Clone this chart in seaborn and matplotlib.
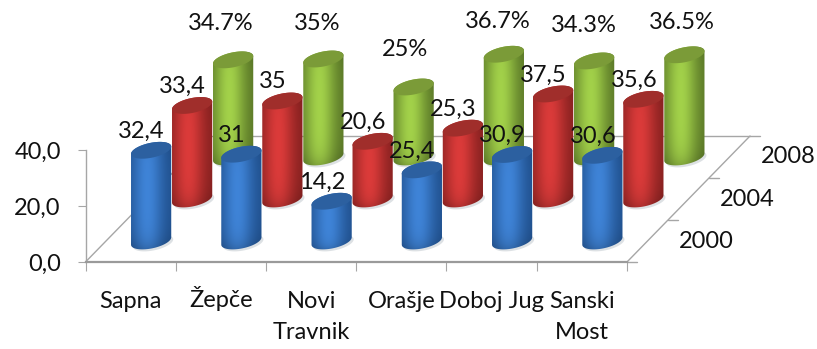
import numpy as np
import pandas as pd
import seaborn as sns
import matplotlib
matplotlib.use("Agg")
import matplotlib.pyplot as plt
from matplotlib.colors import to_rgb
from matplotlib.path import Path
from matplotlib.transforms import ScaledTranslation

# Values per municipality and survey year
municipalities = ["Sapna", "Žepče", "Novi\nTravnik", "Orašje", "Doboj Jug", "Sanski\nMost"]
years = ["2000", "2004", "2008"]
values_2000 = [32.4, 31, 14.2, 25.4, 30.9, 30.6]
values_2004 = [33.4, 35, 20.6, 25.3, 37.5, 35.6]
values_2008 = [34.7, 35, 25, 36.7, 34.3, 36.5]

# Styling per year: light side, dark side, cap colour
light = {"2000": "#3f84d8", "2004": "#dc3b3a", "2008": "#a3d24a"}
dark = {"2000": "#1f4f8c", "2004": "#84201f", "2008": "#587526"}
cap = {"2000": "#2c60a0", "2004": "#a02e2b", "2008": "#7b9b38"}

# Horizontal nudges and lifts (px) for the percentage labels of the back row
back_nudge_x = [-12, -6, -9, -6, -10, -3]
back_lift = [36, 35, 37, 33, 35, 32]

W, H = 817, 349
X_LEFT, X_RIGHT, Y_ZERO, Y_FORTY = 85.5, 627.0, 262.0, 150.0
PX_PER_CAT = (X_RIGHT - X_LEFT) / 6
PX_PER_UNIT = (Y_ZERO - Y_FORTY) / 40
DX = 41 / PX_PER_CAT      # category shift per depth step
DY = 42 / PX_PER_UNIT     # value shift per depth step
A, B, PHI = 20.5, 7.4, np.radians(12)   # tilted ellipse of the cylinder ends (px)

sns.set_theme(style="white")
plt.rcParams["font.family"] = ["Lato", "DejaVu Sans"]
FS = 17


def oblique(x, v, depth):
    """Project a point on the floor grid/height into the flat axes."""
    return x + depth * DX, v + depth * DY


def ellipse_pts(cx, cy, t):
    ex = A * np.cos(t) * np.cos(PHI) - B * np.sin(t) * np.sin(PHI)
    ey = A * np.cos(t) * np.sin(PHI) + B * np.sin(t) * np.cos(PHI)
    return cx + ex / PX_PER_CAT, cy + ey / PX_PER_UNIT


def shading(lo, hi):
    nx, ny = 80, 40
    s = np.linspace(0, 1, nx)
    v = np.linspace(0, 1, ny)
    w = np.exp(-((s - 0.42) / 0.36) ** 2)[None, :, None]
    lo, hi = np.array(to_rgb(lo)), np.array(to_rgb(hi))
    img = lo + (hi - lo) * w
    fade = 1 - 0.22 * np.exp(-v / 0.10)[:, None, None]
    fade = np.clip(fade * (1 - 0.10 * np.exp(-(1 - v) / 0.10))[:, None, None], 0, 1)
    return np.clip(img * fade, 0, 1)


frame = pd.DataFrame({
    "municipality": municipalities * 3,
    "year": np.repeat(years, 6),
    "value": values_2000 + values_2004 + values_2008,
})

fig = plt.figure(figsize=(W / 100, H / 100), dpi=100, facecolor="white")
ax = fig.add_axes([X_LEFT / W, 1 - Y_ZERO / H, (X_RIGHT - X_LEFT) / W, (Y_ZERO - Y_FORTY) / H])
ax.patch.set_alpha(0)

sns.barplot(frame, x="municipality", y="value", hue="year", hue_order=years,
            palette=light, dodge=False, width=0.44, legend=False, ax=ax)
ax.set_xlim(-0.5, 5.5)
ax.set_ylim(0, 40)
ax.set_autoscale_on(False)
ax.set_xlabel("")
ax.set_ylabel("")

# Floor outline and depth axis
floor_kw = dict(color="#a6a6a6", lw=1.0, clip_on=False, zorder=1)
x0, y0 = oblique(-0.5, 0, 3)
x1, y1 = oblique(5.5, 0, 3)
ax.plot([-0.5, x0], [0, y0], **floor_kw)
ax.plot([x0, x1], [y0, y1], **floor_kw)
ax.plot([5.5, x1], [0, y1], **floor_kw)
for d in range(4):
    xd, yd = oblique(5.5, 0, d)
    ax.plot([xd, xd + 10 / PX_PER_CAT], [yd, yd], **floor_kw)
for d, year in enumerate(years):
    xd, yd = oblique(5.5, 0, d + 0.5)
    ax.annotate(year, (xd, yd), xytext=(59 * 0.72, 0), textcoords="offset points",
                ha="center", va="center", fontsize=FS, color="#111111", annotation_clip=False)

# Cylinders, back row first so nearer rows overlap it
for k in [2, 1, 0]:
    year = years[k]
    z = 5 - k
    bars = ax.containers[k]
    for i, bar in enumerate(bars):
        bar.set_visible(False)
        xc = bar.get_x() + bar.get_width() / 2
        val = bar.get_height()
        bx, by = oblique(xc, 0, k + 0.5)
        tx, ty = oblique(xc, val, k + 0.5)

        t0 = np.arctan2(-B * np.sin(PHI), A * np.cos(PHI))
        up = np.linspace(t0, t0 + np.pi, 40)
        down = np.linspace(t0 + np.pi, t0 + 2 * np.pi, 40)
        ux, uy = ellipse_pts(tx, ty, up)
        dx_, dy_ = ellipse_pts(bx, by, down)
        body = Path(np.column_stack([np.r_[ux, dx_, ux[0]], np.r_[uy, dy_, uy[0]]]))

        # Soft shadow on the floor
        sx, sy = ellipse_pts(bx + 2 / PX_PER_CAT, by - 2 / PX_PER_UNIT, np.linspace(0, 2 * np.pi, 60))
        ax.fill(sx, sy, color="#d5dade", alpha=0.8, lw=0, clip_on=False, zorder=z - 0.5)

        pad_x, pad_y = 22 / PX_PER_CAT, 10 / PX_PER_UNIT
        im = ax.imshow(shading(dark[year], light[year]), origin="lower", aspect="auto",
                       extent=[bx - pad_x, bx + pad_x, by - pad_y, ty + pad_y],
                       interpolation="bilinear", zorder=z)
        im.set_clip_path(body, transform=ax.transData)
        im.set_clip_box(fig.bbox)

        cx, cy = ellipse_pts(tx, ty, np.linspace(0, 2 * np.pi, 80))
        ax.fill(cx, cy, color=cap[year], lw=0, clip_on=False, zorder=z + 0.1)

        if year == "2008":
            text = f"{val:g}%"
            off = (back_nudge_x[i] * 0.72, back_lift[i] * 0.72)
        else:
            text = f"{val:g}".replace(".", ",")
            off = (-9.5 * 0.72, 19 * 0.72)
        ax.annotate(text, (tx, ty), xytext=off, textcoords="offset points",
                    ha="center", va="center", fontsize=FS, color="#111111",
                    zorder=20, annotation_clip=False)

# Axes: gridless, ticks between the categories
sns.despine(ax=ax, top=True, right=True)
ax.spines["bottom"].set_color("#9a9a9a")
ax.spines["bottom"].set_linewidth(1.6)
ax.spines["left"].set_color("#a6a6a6")
ax.spines["left"].set_linewidth(1.0)
ax.spines["bottom"].set_zorder(2)
ax.spines["left"].set_zorder(2)

ax.set_yticks([0, 20, 40], ["0,0", "20,0", "40,0"])
ax.set_xticks(range(6), municipalities)
ax.set_xticks(np.arange(-0.5, 6), minor=True)
ax.tick_params(axis="y", left=True, length=5.8, width=0.8, color="#a6a6a6", pad=12,
               labelsize=FS, labelcolor="#111111")
ax.tick_params(axis="x", which="major", bottom=False, length=0, pad=21,
               labelsize=FS, labelcolor="#111111")
ax.tick_params(axis="x", which="minor", bottom=True, length=6.5, width=0.8, color="#a6a6a6")
for label in ax.get_xticklabels():
    label.set_linespacing(1.55)
    # The caron makes this label taller; keep its baseline in line with the others
    if "Ž" in label.get_text():
        label.set_transform(label.get_transform() + ScaledTranslation(0, 5 / 100, fig.dpi_scale_trans))

fig.savefig("out.png", dpi=100, facecolor="white")
